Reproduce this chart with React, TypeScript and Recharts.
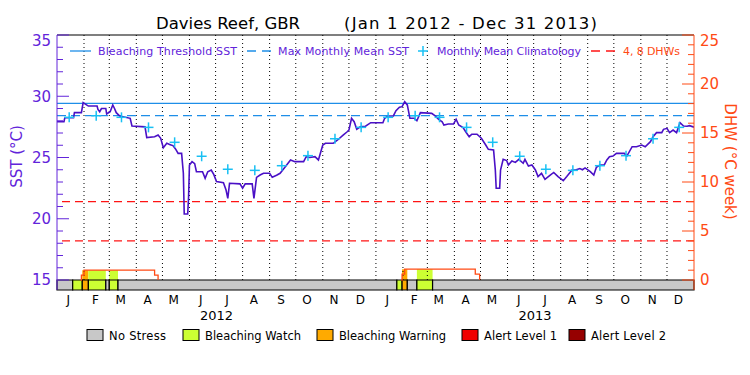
import React from 'react';
import {
  ComposedChart,
  Line,
  Scatter,
  XAxis,
  YAxis,
  ReferenceLine,
  ReferenceArea,
} from 'recharts';

const monthLetters = ['J', 'F', 'M', 'A', 'M', 'J', 'J', 'A', 'S', 'O', 'N', 'D'];
const years = [2012, 2013];

// monthly mean climatology (deg C), Jan..Dec
const climatology = [28.28, 28.41, 28.28, 27.46, 26.24, 25.1, 24.04, 23.95, 24.33, 25.15, 26.53, 27.46];
const bleachingThreshold = 29.42;
const maxMonthlyMean = 28.42;
const dhwLevels = [4, 8];

const sstLabels = [15, 20, 25, 30, 35];
const dhwLabels = [0, 5, 10, 15, 20, 25];

// [day since Jan 1 2012, SST]
const sst2012: [number, number][] = [
  [0, 27.92], [8, 27.92], [9, 28.25], [19, 28.25], [20, 28.66], [28, 28.66], [30, 29.48],
  [33, 29.34], [36, 29.2], [46, 29.2], [47, 28.93], [49, 28.74], [51, 29.0], [56, 29.0],
  [57, 28.55], [61, 28.74], [64, 29.29], [66, 29.0], [68, 28.66], [72, 28.39], [84, 28.2],
  [86, 27.57], [101, 27.5], [103, 26.62], [112, 26.7], [116, 26.84], [119, 26.57], [122, 25.8],
  [126, 26.16], [130, 26.05], [133, 25.97], [136, 25.7], [139, 25.34], [143, 25.34], [145, 23.71],
  [146, 20.39], [150, 20.39], [151, 21.8], [152, 24.39], [155, 24.66], [158, 24.5], [160, 23.84],
  [167, 23.84], [170, 23.3], [173, 23.84], [177, 23.98], [180, 23.6], [183, 23.03], [191, 22.95],
  [194, 22.35], [196, 21.67], [198, 22.9], [210, 22.85], [213, 22.49], [216, 22.85], [224, 22.85],
  [226, 21.67], [229, 23.38], [233, 23.57], [237, 23.71], [244, 23.71], [247, 23.38], [252, 23.55],
  [256, 23.71], [262, 24.25], [268, 24.8], [273, 24.66], [283, 24.66], [286, 25.07], [290, 25.0],
  [296, 25.07], [300, 24.8], [305, 26.02], [308, 26.16], [317, 26.16], [322, 26.43], [328, 26.8],
  [333, 27.1], [335, 27.24], [338, 28.2], [341, 27.92], [344, 27.3], [348, 27.5], [354, 27.55],
  [360, 27.84],
];

const sst2013: [number, number][] = [
  [374, 27.84], [376, 28.2], [380, 28.39], [386, 28.39], [389, 28.82], [393, 29.1], [396, 29.15],
  [399, 29.56], [402, 29.29], [405, 28.2], [410, 28.2], [413, 28.0], [417, 28.66], [430, 28.6],
  [434, 28.39], [438, 28.12], [442, 27.92], [444, 27.65], [449, 27.73], [455, 27.73], [458, 28.12],
  [461, 27.65], [466, 27.44], [469, 27.1], [473, 26.7], [476, 26.9], [482, 26.9], [487, 26.57],
  [492, 26.02], [495, 25.67], [501, 25.61], [503, 23.98], [504, 22.49], [508, 22.49], [509, 23.98],
  [512, 24.85], [516, 24.75], [518, 24.39], [522, 24.72], [526, 24.6], [530, 24.85], [535, 24.53],
  [537, 24.85], [541, 24.3], [545, 24.39], [549, 23.98], [552, 23.44], [556, 23.71], [560, 23.22],
  [566, 23.57], [570, 23.78], [575, 23.44], [581, 23.11], [585, 23.44], [591, 23.98], [595, 23.98],
  [600, 24.1], [603, 24.0], [606, 24.15], [612, 23.84], [616, 23.57], [619, 24.2], [623, 24.39],
  [628, 24.39], [631, 24.8], [634, 25.07], [638, 25.12], [642, 25.34], [651, 25.34], [654, 25.12],
  [660, 25.88], [665, 25.88], [671, 26.02], [675, 25.88], [681, 26.29], [684, 26.7], [688, 27.03],
  [694, 27.03], [696, 27.3], [700, 27.38], [703, 27.03], [707, 27.24], [711, 27.03], [715, 27.84],
  [719, 27.57], [723, 27.55], [726, 27.6], [731, 27.48],
];

// degree heating weeks, stepped
const dhw2012: [number, number][] = [[27, 0], [28, 0.5], [31, 1.0], [112, 0.5], [116, 0]];
const dhw2013: [number, number][] = [[395, 0], [396, 0.6], [399, 1.1], [480, 0.6], [485, 0]];

const stressLevels = [
  { key: 'none', label: 'No Stress', color: '#c8c8c8' },
  { key: 'watch', label: 'Bleaching Watch', color: '#ccff33' },
  { key: 'warning', label: 'Bleaching Warning', color: '#ffaa00' },
  { key: 'alert1', label: 'Alert Level 1', color: '#f00000' },
  { key: 'alert2', label: 'Alert Level 2', color: '#960000' },
];

// [start day, end day, stress level]
const stressPeriods: [number, number, string][] = [
  [0, 18, 'none'], [18, 29, 'watch'], [29, 36, 'warning'], [36, 56, 'watch'], [56, 60, 'none'],
  [60, 70, 'watch'], [70, 390, 'none'], [390, 396, 'watch'], [396, 402, 'warning'],
  [402, 413, 'none'], [413, 431, 'watch'], [431, 731, 'none'],
];

const PURPLE = '#6224da';
const LINE_PURPLE = '#4a10c6';
const BLUE = '#1e8ee8';
const CYAN = '#18c0f4';
const ORANGE = '#ff4a14';
const RED = '#ff1414';
const FONT = '"DejaVu Sans", sans-serif';

// plot: y 35..290, 35degC at top, 15degC at 280 ; 25 DHW at top, 0 at 280
const SST_MIN = 35 - 255 / 12.25;
const DHW_MIN = 25 - 255 / 9.8;

const dayOf = (y: number, m: number, d: number) =>
  Math.round((Date.UTC(y, m, d) - Date.UTC(2012, 0, 1)) / 86400000);
const END_DAY = dayOf(2014, 0, 1);

const monthStarts = years.flatMap((y) => monthLetters.map((_, m) => dayOf(y, m, 1)));
const monthTicks = monthStarts.map((d) => d + 13);
const yearTicks = years.map((y) => (dayOf(y, 0, 1) + dayOf(y + 1, 0, 1)) / 2);
const sstTicks = Array.from({ length: 21 }, (_, i) => 15 + i);
const dhwTicks = Array.from({ length: 26 }, (_, i) => i);

const sstData = [...sst2012, ...sst2013].map(([day, sst]) => ({ day, sst }));
const dhwData = [
  ...dhw2012.map(([day, dhw]) => ({ day, dhw })),
  { day: 250, dhw: null },
  ...dhw2013.map(([day, dhw]) => ({ day, dhw })),
];
const climData = years.flatMap((y) =>
  climatology.map((sst, m) => ({ day: dayOf(y, m, 1) + 14, sst }))
);

const dhwAt = (day: number) => {
  const pts = [...dhw2012, ...dhw2013];
  let v = 0;
  for (const [d, val] of pts) if (d <= day) v = val;
  return v;
};

const colorOf = (key: string) => stressLevels.find((s) => s.key === key)!.color;

const SstTick = (props: any) => {
  const { x, y, payload } = props;
  const major = sstLabels.includes(payload.value);
  // the top label sits a little below its tick, as in the original plot
  const shift = payload.value === 35 ? 6 : 0;
  return (
    <g>
      <line x1={x} x2={x + (major ? 12 : 6)} y1={y} y2={y} stroke={PURPLE} />
      {major && (
        <text x={x - 6} y={y + shift} dy="0.36em" textAnchor="end" fill={PURPLE} fontSize={15} fontFamily={FONT}>
          {payload.value}
        </text>
      )}
    </g>
  );
};

const DhwTick = (props: any) => {
  const { x, y, payload } = props;
  const major = dhwLabels.includes(payload.value);
  const shift = payload.value === 25 ? 6 : 0;
  return (
    <g>
      <line x1={x} x2={x - (major ? 12 : 6)} y1={y} y2={y} stroke={ORANGE} />
      {major && (
        <text x={x + 6} y={y + shift} dy="0.36em" textAnchor="start" fill={ORANGE} fontSize={15} fontFamily={FONT}>
          {payload.value}
        </text>
      )}
    </g>
  );
};

const MonthTick = (props: any) => {
  const { x, y, payload } = props;
  const i = monthTicks.indexOf(payload.value);
  return (
    <text x={x} y={y + 14} textAnchor="middle" fill="#000" fontSize={12} fontFamily={FONT}>
      {monthLetters[i % 12]}
    </text>
  );
};

const YearTick = (props: any) => {
  const { x, y, payload } = props;
  const i = yearTicks.indexOf(payload.value);
  return (
    <text x={x} y={y + 14} textAnchor="middle" fill="#000" fontSize={13} fontFamily={FONT}>
      {years[i]}
    </text>
  );
};

const PlusMark = (props: any) => {
  const { cx, cy } = props;
  return (
    <g>
      <line x1={cx - 5} x2={cx + 5} y1={cy} y2={cy} stroke={CYAN} strokeWidth={1.5} />
      <line x1={cx} x2={cx} y1={cy - 5} y2={cy + 5} stroke={CYAN} strokeWidth={1.5} />
    </g>
  );
};

const legendBoxes = [87, 183, 317, 462, 569];
const legendWidths = [57, 96, 107, 73, 75];

export default function App() {
  return (
    <div style={{ position: 'absolute', left: 0, top: 0, width: 750, height: 375, background: '#fff' }}>
      <ComposedChart width={750} height={375} margin={{ top: 35, right: 0, bottom: 49, left: 0 }}>
        <XAxis
          dataKey="day"
          type="number"
          domain={[0, END_DAY]}
          ticks={monthTicks}
          interval={0}
          tick={<MonthTick />}
          tickSize={0}
          tickMargin={0}
          axisLine={false}
          tickLine={false}
          height={16}
          allowDataOverflow
        />
        <XAxis
          xAxisId="yr"
          dataKey="day"
          type="number"
          domain={[0, END_DAY]}
          ticks={yearTicks}
          interval={0}
          tick={<YearTick />}
          tickSize={0}
          tickMargin={0}
          axisLine={false}
          tickLine={false}
          height={20}
          allowDataOverflow
        />
        <YAxis
          yAxisId="sst"
          orientation="left"
          width={57}
          type="number"
          domain={[SST_MIN, 35]}
          ticks={sstTicks}
          interval={0}
          tick={<SstTick />}
          tickSize={0}
          tickMargin={0}
          tickLine={false}
          axisLine={{ stroke: PURPLE }}
          allowDataOverflow
        />
        <YAxis
          yAxisId="dhw"
          orientation="right"
          width={56}
          type="number"
          domain={[DHW_MIN, 25]}
          ticks={dhwTicks}
          interval={0}
          tick={<DhwTick />}
          tickSize={0}
          tickMargin={0}
          tickLine={false}
          axisLine={{ stroke: ORANGE }}
          allowDataOverflow
        />

        {monthStarts
          .filter((d) => d > 0)
          .map((d) => (
            <ReferenceLine
              key={'m' + d}
              yAxisId="sst"
              segment={[{ x: d, y: 15 }, { x: d, y: 35 }]}
              stroke="#000"
              strokeDasharray="1 3"
            />
          ))}

        <ReferenceLine yAxisId="sst" y={35} stroke="#000" strokeWidth={1.2} />
        <ReferenceLine yAxisId="sst" y={bleachingThreshold} stroke={BLUE} strokeWidth={1.3} />
        <ReferenceLine yAxisId="sst" y={maxMonthlyMean} stroke={BLUE} strokeWidth={1.3} strokeDasharray="9 5" />
        {dhwLevels.map((v) => (
          <ReferenceLine key={'d' + v} yAxisId="dhw" y={v} stroke={RED} strokeWidth={1.3} strokeDasharray="8 5" />
        ))}

        {stressPeriods
          .filter(([s, e, k]) => k !== 'none' && dhwAt((s + e) / 2) > 0)
          .map(([s, e, k]) => (
            <ReferenceArea
              key={'f' + s}
              yAxisId="dhw"
              x1={s}
              x2={e}
              y1={0}
              y2={dhwAt((s + e) / 2)}
              fill={colorOf(k)}
              fillOpacity={1}
              stroke="none"
            />
          ))}

        {stressPeriods.map(([s, e, k]) => (
          <ReferenceArea
            key={'s' + s}
            yAxisId="dhw"
            x1={s}
            x2={e}
            y1={DHW_MIN}
            y2={0}
            fill={colorOf(k)}
            fillOpacity={1}
            stroke="#000"
            strokeWidth={1.2}
          />
        ))}

        <Line
          yAxisId="dhw"
          data={dhwData}
          dataKey="dhw"
          type="stepAfter"
          stroke={ORANGE}
          strokeWidth={1.3}
          dot={false}
          isAnimationActive={false}
        />
        <Line
          yAxisId="sst"
          data={sstData}
          dataKey="sst"
          type="linear"
          stroke={LINE_PURPLE}
          strokeWidth={1.6}
          dot={false}
          isAnimationActive={false}
        />
        <Scatter
          yAxisId="sst"
          data={climData}
          dataKey="sst"
          shape={<PlusMark />}
          isAnimationActive={false}
        />
      </ComposedChart>

      <svg
        width={750}
        height={375}
        style={{ position: 'absolute', left: 0, top: 0, pointerEvents: 'none' }}
        fontFamily={FONT}
      >
        <text x={156} y={28.5} fontSize={16.5} fill="#000" textLength={144}>Davies Reef, GBR</text>
        <text x={344} y={28.5} fontSize={16.5} fill="#000" textLength={253}>(Jan 1 2012 - Dec 31 2013)</text>

        <line x1={70} x2={91} y1={51} y2={51} stroke={BLUE} strokeWidth={1.3} />
        <text x={98} y={55} fontSize={11} fill={PURPLE} textLength={139}>Bleaching Threshold SST</text>
        <line x1={247} x2={272} y1={51} y2={51} stroke={BLUE} strokeWidth={1.3} strokeDasharray="9 6" />
        <text x={278} y={55} fontSize={11} fill={PURPLE} textLength={131}>Max Monthly Mean SST</text>
        <PlusMark cx={423} cy={51} />
        <text x={437} y={55} fontSize={11} fill={PURPLE} textLength={144}>Monthly Mean Climatology</text>
        <line x1={591} x2={615} y1={51} y2={51} stroke={RED} strokeWidth={1.3} strokeDasharray="9 6" />
        <text x={623} y={55} fontSize={11} fill={ORANGE} textLength={57}>4, 8 DHWs</text>

        <text
          transform="translate(22 156.5) rotate(-90)"
          textAnchor="middle"
          fontSize={15}
          fill={PURPLE}
        >
          SST (°C)
        </text>
        <text
          transform="translate(725 161.5) rotate(90)"
          textAnchor="middle"
          fontSize={15}
          fill={ORANGE}
        >
          DHW (°C week)
        </text>

        {stressLevels.map((s, i) => (
          <g key={s.key}>
            <rect x={legendBoxes[i]} y={329.5} width={16} height={11} fill={s.color} stroke="#000" />
            <text x={legendBoxes[i] + 22} y={340} fontSize={11.5} fill="#000" textLength={legendWidths[i]}>
              {s.label}
            </text>
          </g>
        ))}
      </svg>
    </div>
  );
}
